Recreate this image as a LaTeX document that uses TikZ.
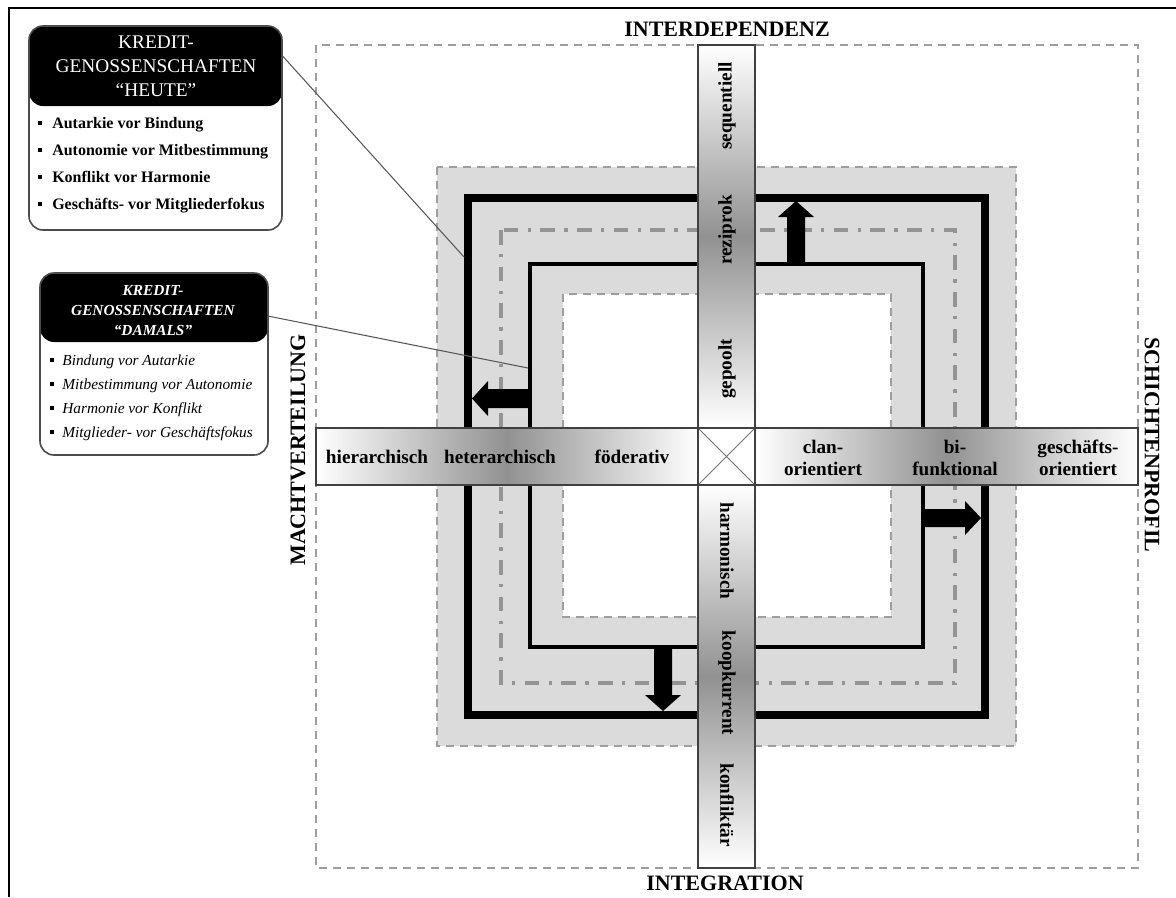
\documentclass[tikz,border=0pt]{standalone}
\usepackage{fontspec}
\setmainfont{Liberation Serif}
\begin{document}
\begin{tikzpicture}[x=0.75pt,y=-0.75pt,
  graydash/.style={draw=black!38, line width=1.3pt, dash pattern=on 6pt off 4.5pt},
  bartxt/.style={font=\fontsize{14.4}{16.5}\selectfont\bfseries, align=center, inner sep=0pt},
  axislbl/.style={font=\fontsize{16.5}{19}\selectfont\bfseries, inner sep=0pt},
  barframe/.style={draw=black!75, line width=1pt},
  blockarrow/.style={fill=black},
  callline/.style={draw=black!65, line width=0.8pt},
  callbox/.style={draw=black!70, line width=1.2pt, rounded corners=10.5pt, fill=white},
  itemA/.style={font=\fontsize{12}{14}\selectfont\bfseries, inner sep=0pt, anchor=base west},
  itemB/.style={font=\fontsize{11.5}{14}\selectfont\itshape, inner sep=0pt, anchor=base west},
  barshadeH/.style={left color=white, right color=white, middle color=black!43},
  barshadeV/.style={top color=white, bottom color=white, middle color=black!43},
]
\useasboundingbox (0,0) rectangle (1176,897);
\fill[white] (0,0) rectangle (1176,897);
% frame
\draw[line width=1.5pt] (9,897) -- (9,8) -- (1176,8);
% outer dashed square
\draw[graydash] (316,45) rectangle (1138,868);
% gray band
\fill[black!14] (437,167) rectangle (1016,746);
\draw[graydash] (437,167) rectangle (1016,746);
\fill[white] (563,294) rectangle (891,617);
\draw[graydash] (563,294) rectangle (891,617);
\draw[black!42, line width=2.8pt, dash pattern=on 11pt off 7pt on 2.5pt off 7pt] (501,230) rectangle (955,683);
\draw[line width=6pt] (468,198) rectangle (985,715);
\draw[line width=3pt] (530,264) rectangle (923,647);
% block arrows
\fill[blockarrow] (787,264) -- (787,217) -- (778,217) -- (796,201) -- (814,217) -- (805,217) -- (805,264) -- cycle;
\fill[blockarrow] (530,389) -- (488,389) -- (488,381) -- (472,398.5) -- (488,416) -- (488,408) -- (530,408) -- cycle;
\fill[blockarrow] (923,509) -- (965,509) -- (965,501) -- (981,518) -- (965,535) -- (965,527) -- (923,527) -- cycle;
\fill[blockarrow] (654,647) -- (654,695) -- (645,695) -- (663,711) -- (681,695) -- (672,695) -- (672,647) -- cycle;
% bars
\shade[barshadeH] (316,428) rectangle (698,485);
\shade[barshadeH] (755,428) rectangle (1138,485);
\shade[barshadeV] (698,45) rectangle (755,428);
\shade[barshadeV] (698,485) rectangle (755,868);
\fill[white] (698,428) rectangle (755,485);
\draw[black!55, line width=0.7pt] (698,428) -- (755,485) (698,485) -- (755,428);
\draw[barframe] (316,428) rectangle (1138,485);
\draw[barframe] (698,45) rectangle (755,868);
% bar texts
\node[bartxt] (hier) at (377,457) {hierarchisch};
\node[bartxt] (hete) at (500,457) {heterarchisch};
\node[bartxt] (foed) at (632,457) {föderativ};
\node[bartxt] (clan) at (823,458) {clan-\\orientiert};
\node[bartxt] (bifu) at (955,458) {bi-\\funktional};
\node[bartxt] (gesch) at (1078,458) {geschäfts-\\orientiert};
\node[bartxt, rotate=90] (sequ) at (727,106) {sequentiell};
\node[bartxt, rotate=90] (rezi) at (727,230) {reziprok};
\node[bartxt, rotate=90] (gepo) at (727,369) {gepoolt};
\node[bartxt, rotate=-90] (harm) at (727,551) {harmonisch};
\node[bartxt, rotate=-90] (koop) at (727,683) {koopkurrent};
\node[bartxt, rotate=-90] (konf) at (727,805) {konfliktär};
% axis labels
\node[axislbl] (inter) at (727,29) {INTERDEPENDENZ};
\node[axislbl] (integ) at (725,883.5) {INTEGRATION};
\node[axislbl, rotate=90] (macht) at (298,450) {MACHTVERTEILUNG};
\node[axislbl, rotate=-90] (schicht) at (1152,445) {SCHICHTENPROFIL};
% callout boxes
\node[callbox, minimum width=189.75pt, minimum height=153pt,
  path picture={\fill[black] (path picture bounding box.north west) rectangle ([yshift=-60pt]path picture bounding box.north east);}] (heute) at (155.5,128) {};
\node[font=\fontsize{14.5}{18}\selectfont, text=white, align=center, inner sep=0pt] (heuteT) at (156,66) {KREDIT-\\GENOSSENSCHAFTEN\\“HEUTE”};
\node[itemA] (hA) at (38,128) {\rule[2.5pt]{3pt}{3pt}\hspace{7.5pt}Autarkie vor Bindung};
\node[itemA] (hB) at (38,155) {\rule[2.5pt]{3pt}{3pt}\hspace{7.5pt}Autonomie vor Mitbestimmung};
\node[itemA] (hC) at (38,182) {\rule[2.5pt]{3pt}{3pt}\hspace{7.5pt}Konflikt vor Harmonie};
\node[itemA] (hD) at (38,209) {\rule[2.5pt]{3pt}{3pt}\hspace{7.5pt}Geschäfts- vor Mitgliederfokus};
\node[callbox, minimum width=171pt, minimum height=136.5pt,
  path picture={\fill[black] (path picture bounding box.north west) rectangle ([yshift=-51.75pt]path picture bounding box.north east);}] (damals) at (154,364) {};
\node[font=\fontsize{11.5}{15}\selectfont\bfseries\itshape, text=white, align=center, inner sep=0pt] (damalsT) at (153,311) {KREDIT-\\GENOSSENSCHAFTEN\\“DAMALS”};
\node[itemB] (dA) at (50,365) {\rule[2.3pt]{2.6pt}{2.6pt}\hspace{6.5pt}Bindung vor Autarkie};
\node[itemB] (dB) at (50,389) {\rule[2.3pt]{2.6pt}{2.6pt}\hspace{6.5pt}Mitbestimmung vor Autonomie};
\node[itemB] (dC) at (50,413) {\rule[2.3pt]{2.6pt}{2.6pt}\hspace{6.5pt}Harmonie vor Konflikt};
\node[itemB] (dD) at (50,437) {\rule[2.3pt]{2.6pt}{2.6pt}\hspace{6.5pt}Mitglieder- vor Geschäftsfokus};
% callout lines
\coordinate (p1) at (464,257);
\coordinate (p2) at (528,368);
\draw[callline] ([yshift=-23.25pt]heute.north east) -- (p1);
\draw[callline] ([yshift=-33pt]damals.north east) -- (p2);
\end{tikzpicture}
\end{document}
